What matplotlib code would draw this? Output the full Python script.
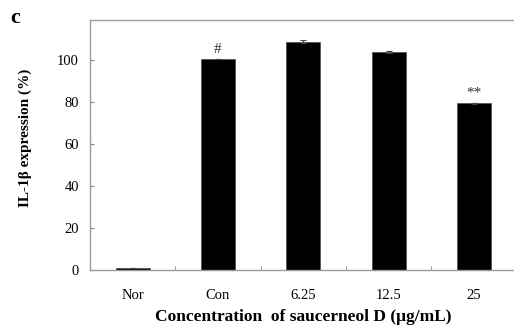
import numpy as np
import matplotlib
matplotlib.use("Agg")
import matplotlib.pyplot as plt

# === Dati ===
categorie = ["Nor", "Con", "6.25", "12.5", "25"]
espressione = [0.7, 100.2, 108.7, 103.8, 79.3]
errori = [0.0, 0.0, 0.8, 0.4, 0.4]
segni = ["", "#", "", "", "**"]

plt.rcParams["font.family"] = ["Liberation Serif", "DejaVu Serif"]

fig = plt.figure(figsize=(5.14, 3.28), dpi=100)
ax = fig.add_axes([0.175, 0.177, 0.83, 0.762])

x = np.arange(len(categorie))
ax.bar(x, espressione, width=0.4, color="black", edgecolor="#555555", linewidth=0.6,
       yerr=errori, error_kw=dict(ecolor="#444444", elinewidth=0.8, capsize=2.5, capthick=0.8))

# segni di significatività sopra le barre
for xi, v, e, s in zip(x, espressione, errori, segni):
    if s:
        ax.text(xi, v + e + 1.5, s, ha="center", va="bottom", fontsize=11, color="#333333")

ax.set_xlim(-0.5, len(categorie) - 0.5)
ax.set_ylim(0, 119)
ax.set_yticks([0, 20, 40, 60, 80, 100])
ax.set_xticks(x)
ax.set_xticklabels(categorie, fontsize=10.5)
ax.set_xticks(np.arange(0.5, len(categorie) - 0.5, 1), minor=True)
ax.tick_params(axis="x", which="major", length=0, pad=14)
ax.tick_params(axis="x", which="minor", direction="in", length=3, color="#888888")
ax.tick_params(axis="y", direction="in", length=3, color="#888888", labelsize=10.5, pad=8)

for lato in ["left", "bottom", "top"]:
    ax.spines[lato].set_color("#999999")
    ax.spines[lato].set_linewidth(1.0)
ax.spines["right"].set_visible(False)

ax.set_ylabel("IL-1β expression (%)", fontsize=11, fontweight="bold")
ax.yaxis.set_label_coords(-0.137, 0.53)
ax.set_xlabel("Concentration  of saucerneol D (μg/mL)", fontsize=12.5, fontweight="bold")
ax.xaxis.set_label_coords(0.5, -0.155)
fig.text(0.03, 0.945, "c", fontsize=16, fontweight="bold", ha="center", va="center")

fig.savefig("out.png", dpi=100)
